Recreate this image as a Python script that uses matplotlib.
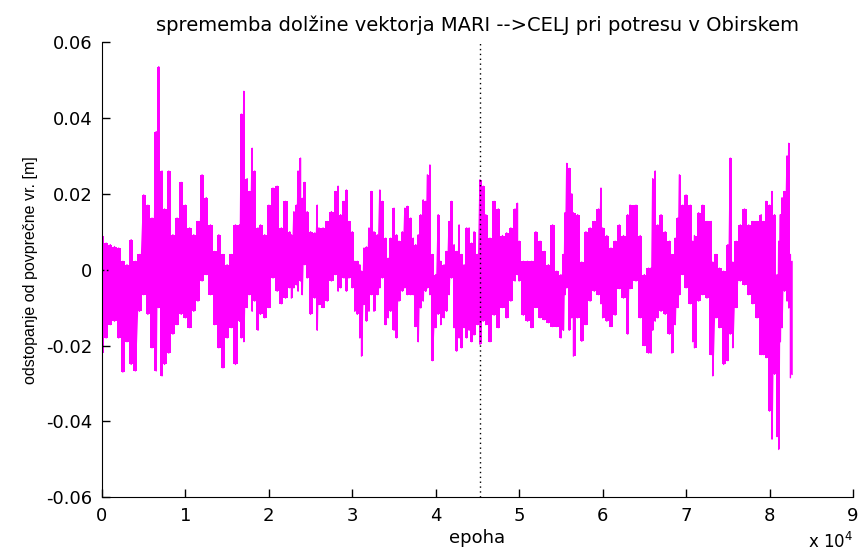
import numpy as np
import matplotlib
matplotlib.use("Agg")
import matplotlib.pyplot as plt

plt.rcParams['font.family'] = ['DejaVu Sans']

# epoha, zgornja in spodnja ovojnica odstopanj [m] (odčitano s slike)
epoha = [0, 500, 1000, 1500, 2000, 2500, 3000, 3500, 4000, 4500,
         5000, 5500, 6000, 6500, 6800, 7200, 7500, 8000, 8500, 9000,
         9500, 10000, 10500, 11000, 11500, 12000, 12500, 13000, 13500, 14000,
         14500, 15000, 15500, 16000, 16500, 16700, 17000, 17400, 17700, 18000,
         18300, 18700, 19000, 19500, 20000, 20500, 21000, 21500, 22000, 22500,
         22700, 23000, 23300, 23500, 23800, 24000, 24300, 24600, 25000, 25500,
         25800, 26000, 26500, 27000, 27500, 28000, 28300, 28600, 29000, 29300,
         29600, 30000, 30300, 30600, 30900, 31100, 31400, 31700, 32000, 32300,
         32600, 33000, 33300, 33600, 34000, 34300, 34600, 35000, 35300, 35600,
         36000, 36300, 36600, 37000, 37300, 37600, 37900, 38200, 38500, 38800,
         39000, 39300, 39600, 40000, 40300, 40600, 41000, 41300, 41600, 41900,
         42200, 42500, 42800, 43100, 43400, 43700, 44000, 44300, 44600, 45000,
         45300, 45700, 46000, 46500, 47000, 47500, 48000, 48500, 49000, 49500,
         49800, 50000, 50500, 51000, 51500, 52000, 52500, 53000, 53500, 54000,
         54500, 55000, 55300, 55500, 55700, 56000, 56300, 56500, 57000, 57500,
         58000, 58500, 59000, 59500, 59800, 60000, 60500, 61000, 61500, 62000,
         62500, 63000, 63300, 64000, 64500, 65000, 65500, 65800, 66000, 66300,
         66600, 67000, 67500, 68000, 68300, 68700, 69000, 69200, 69600, 70000,
         70500, 70800, 71000, 71500, 72000, 72500, 73000, 73200, 73600, 74000,
         74500, 75000, 75300, 75600, 76000, 76500, 77000, 77500, 78000, 78500,
         79000, 79300, 79600, 80000, 80300, 80600, 80900, 81100, 81300, 81500,
         81800, 82100, 82300, 82500, 82700]
zgoraj = [0.0088, 0.007, 0.0066, 0.0061, 0.0057, 0.0022, 0.0013, 0.0079, 0.0022, 0.004,
          0.0197, 0.017, 0.0136, 0.0364, 0.0535, 0.026, 0.016, 0.026, 0.0092, 0.0136,
          0.023, 0.017, 0.011, 0.0092, 0.0127, 0.025, 0.019, 0.0118, 0.0048, 0.0092,
          0.004, 0.0013, 0.004, 0.0118, 0.0118, 0.041, 0.047, 0.024, 0.0206, 0.032,
          0.026, 0.011, 0.0118, 0.0092, 0.017, 0.0215, 0.022, 0.011, 0.018, 0.010,
          0.0092, 0.0153, 0.017, 0.026, 0.0294, 0.0188, 0.023, 0.0153, 0.010, 0.0097,
          0.017, 0.011, 0.011, 0.0127, 0.0153, 0.0206, 0.022, 0.0145, 0.018, 0.021,
          0.0127, 0.010, 0.0022, 0.0022, 0.0013, -0.0004, 0.0057, 0.006, 0.011, 0.0206,
          0.010, 0.0092, 0.021, 0.018, 0.0083, 0.003, 0.0083, 0.0162, 0.0092, 0.0075,
          0.010, 0.0162, 0.0167, 0.0136, 0.0083, 0.0066, 0.0092, 0.0145, 0.0184, 0.018,
          0.025, 0.0276, 0.004, -0.0013, 0.0145, 0.0022, 0.0013, 0.0048, 0.0127, 0.018,
          0.0066, 0.0048, 0.0118, 0.004, 0.0013, 0.011, 0.011, 0.007, 0.010, 0.004,
          0.0237, 0.022, 0.0145, 0.0083, 0.018, 0.016, 0.009, 0.0097, 0.011, 0.016,
          0.0175, 0.0075, 0.0022, 0.0022, 0.0022, 0.010, 0.0075, 0.0048, 0.0013, 0.0118,
          -0.0004, -0.0013, 0.004, 0.015, 0.028, 0.0267, 0.020, 0.015, 0.0145, 0.002,
          0.010, 0.011, 0.0127, 0.016, 0.0215, 0.011, 0.009, 0.0057, 0.0075, 0.0118,
          0.009, 0.0145, 0.017, 0.017, 0.009, -0.0013, 0.0004, 0.0004, 0.024, 0.026,
          0.0118, 0.0145, 0.010, 0.0075, 0.004, 0.0083, 0.0136, 0.025, 0.017, 0.0197,
          0.017, 0.0075, 0.009, 0.015, 0.017, 0.0127, 0.0127, 0.002, 0.004, 0.0004,
          -0.0004, 0.0066, 0.0294, 0.002, 0.0075, 0.0118, 0.016, 0.0118, 0.0127, 0.0127,
          0.0145, 0.0127, 0.018, 0.017, 0.0206, 0.0145, -0.0013, 0.0075, 0.0145, 0.019,
          0.0206, 0.030, 0.0333, 0.004, 0.0022]
spodaj = [-0.022, -0.018, -0.0145, -0.0136, -0.018, -0.027, -0.019, -0.025, -0.0267, -0.011,
          -0.0066, -0.0118, -0.0206, -0.0267, -0.010, -0.028, -0.025, -0.022, -0.017, -0.0145,
          -0.0118, -0.0127, -0.0153, -0.011, -0.0083, -0.003, -0.0013, -0.0066, -0.0145, -0.0206,
          -0.0259, -0.018, -0.0153, -0.025, -0.0136, -0.018, -0.019, -0.010, -0.0066, -0.011,
          -0.0083, -0.016, -0.0118, -0.0127, -0.010, -0.0022, -0.0057, -0.009, -0.0075, -0.0048,
          -0.0075, -0.0048, -0.004, -0.0057, -0.003, -0.0066, 0.0013, -0.0022, -0.0118, -0.0075,
          -0.016, -0.0092, -0.010, -0.0083, -0.003, -0.0013, -0.0057, -0.0048, -0.0022, -0.0057,
          -0.0022, -0.0048, -0.011, -0.0118, -0.018, -0.0228, -0.0092, -0.0136, -0.011, -0.0066,
          -0.011, -0.0066, -0.0048, -0.0022, -0.0145, -0.0127, -0.011, -0.016, -0.018, -0.0083,
          -0.0057, -0.0048, -0.0066, -0.0066, -0.0066, -0.015, -0.019, -0.0101, -0.0083, -0.0057,
          -0.0048, -0.0066, -0.024, -0.0153, -0.0118, -0.0145, -0.0127, -0.011, -0.0066, -0.0022,
          -0.0153, -0.0215, -0.018, -0.0206, -0.0153, -0.018, -0.016, -0.019, -0.0172, -0.0145,
          -0.0197, -0.0136, -0.0145, -0.019, -0.012, -0.0153, -0.010, -0.0127, -0.0083, -0.003,
          -0.0013, -0.003, -0.012, -0.0136, -0.0153, -0.010, -0.0127, -0.0132, -0.014, -0.015,
          -0.015, -0.018, -0.016, -0.0066, -0.0048, -0.016, -0.0127, -0.0228, -0.0127, -0.0189,
          -0.0145, -0.0083, -0.0057, -0.0066, -0.009, -0.0127, -0.0136, -0.015, -0.012, -0.005,
          -0.0075, -0.017, -0.005, -0.003, -0.0127, -0.020, -0.022, -0.022, -0.016, -0.0136,
          -0.0127, -0.011, -0.0118, -0.017, -0.022, -0.0145, -0.010, -0.0066, -0.0013, -0.0048,
          -0.009, -0.019, -0.0206, -0.0083, -0.0066, -0.0075, -0.0224, -0.028, -0.0127, -0.0153,
          -0.025, -0.024, -0.017, -0.0206, -0.010, -0.003, -0.004, -0.0066, -0.009, -0.0127,
          -0.0224, -0.0224, -0.0232, -0.0373, -0.0447, -0.0276, -0.044, -0.0474, -0.019, -0.0153,
          -0.0057, -0.0083, -0.0101, -0.0285, -0.0276]

potres = 45250  # epoha potresa (pikčasta črta)

xticks = [0, 10000, 20000, 30000, 40000, 50000, 60000, 70000, 80000, 90000]
xticklabels = ['0', '1', '2', '3', '4', '5', '6', '7', '8', '9']
yticks = [-0.06, -0.04, -0.02, 0, 0.02, 0.04, 0.06]
yticklabels = ['-0.06', '-0.04', '-0.02', '0', '0.02', '0.04', '0.06']

fig = plt.figure(figsize=(8.59, 5.55), dpi=100)
ax = fig.add_axes([0.1187, 0.104, 0.8743, 0.8203])

magenta = '#ff00ff'
# gost signal: stopničasto polnjenje med ovojnicama + cik-cak
ax.fill_between(epoha, spodaj, zgoraj, step='mid', color=magenta, linewidth=0)
x = np.repeat(epoha, 2)
y = np.column_stack([zgoraj, spodaj]).ravel()
ax.plot(x, y, color=magenta, linewidth=1.0)

ax.axvline(potres, color='black', linestyle=(0, (1, 2.5)), linewidth=1)

ax.set_xlim(0, 90000)
ax.set_ylim(-0.06, 0.06)
ax.set_xticks(xticks)
ax.set_xticklabels(xticklabels)
ax.set_yticks(yticks)
ax.set_yticklabels(yticklabels)
ax.tick_params(direction='in', length=6, labelsize=13, width=1)
ax.tick_params(axis='x', pad=7)
ax.tick_params(axis='y', pad=7)
ax.spines['top'].set_visible(False)
ax.spines['right'].set_visible(False)

ax.set_title('sprememba dolžine vektorja MARI -->CELJ pri potresu v Obirskem', fontsize=14, pad=8)
ax.set_xlabel('epoha', fontsize=13, labelpad=3)
ax.set_ylabel('odstopanje od povprečne vr. [m]', fontsize=11.5, labelpad=6,
              family=['Liberation Sans Narrow', 'Liberation Sans'])
fig.text(0.993, 0.006, 'x 10$^4$', ha='right', va='bottom', fontsize=12)

fig.savefig('out.png', dpi=100)
